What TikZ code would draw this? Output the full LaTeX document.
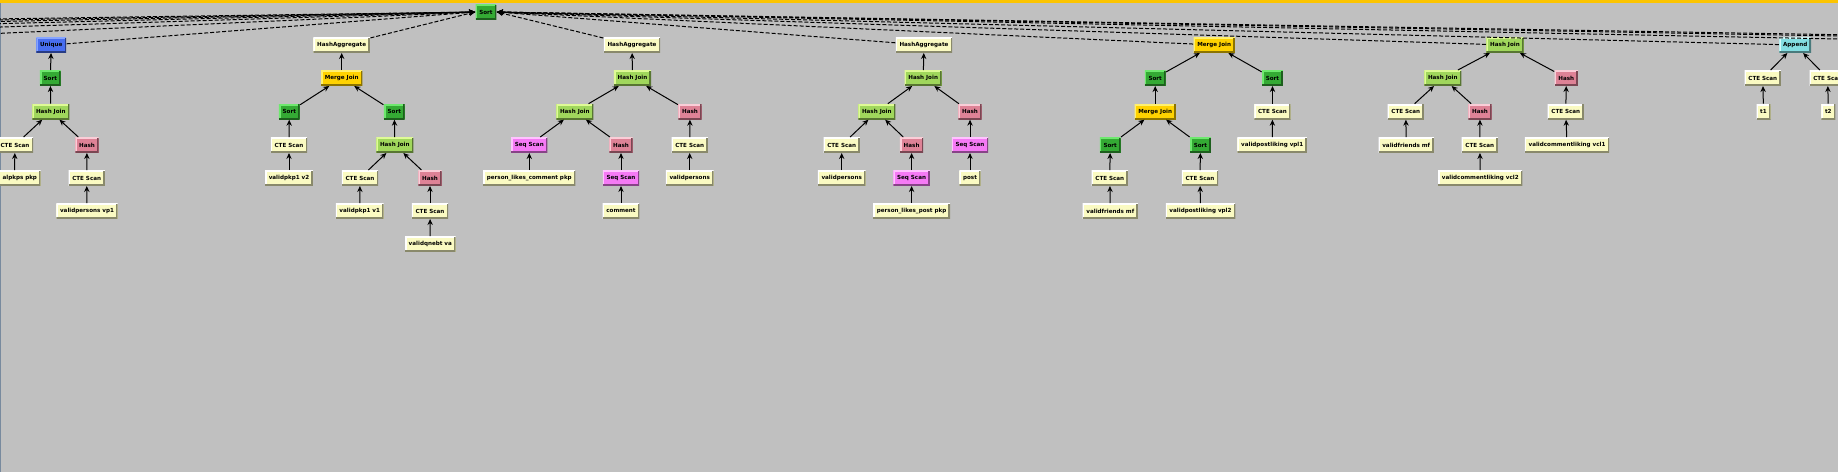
\documentclass[tikz,border=0pt]{standalone}
\usepackage{fontspec}
\setmainfont{DejaVu Sans}
\usetikzlibrary{arrows.meta}

\definecolor{planbg}{RGB}{192,192,192}
\definecolor{planbar}{RGB}{252,196,0}
\definecolor{planedge}{RGB}{120,138,158}
\definecolor{palefill}{RGB}{250,250,194}
\definecolor{sortfill}{RGB}{52,170,52}
\definecolor{sortlt}{RGB}{110,232,110}
\definecolor{hjfill}{RGB}{160,215,92}
\definecolor{hjlt}{RGB}{222,250,150}
\definecolor{hashfill}{RGB}{222,130,150}
\definecolor{hashlt}{RGB}{250,205,215}
\definecolor{mjfill}{RGB}{255,210,0}
\definecolor{mjlt}{RGB}{255,240,110}
\definecolor{seqfill}{RGB}{245,122,245}
\definecolor{seqlt}{RGB}{255,195,255}
\definecolor{uniqfill}{RGB}{72,110,240}
\definecolor{uniqlt}{RGB}{135,165,255}
\definecolor{appfill}{RGB}{132,222,226}
\definecolor{applt}{RGB}{212,250,250}

\newcommand{\opfont}{\bfseries\fontsize{4.2pt}{5pt}\selectfont}

\tikzset{every picture/.style={line width=0.75pt}}
\tikzset{
  planop/.style 2 args={rectangle, fill=#1, minimum height=11.25pt, inner xsep=2.8pt, inner ysep=0pt, font=\opfont,
    path picture={
      \draw[#2, line width=2.4pt] (path picture bounding box.south west) -- (path picture bounding box.north west) -- (path picture bounding box.north east);
      \draw[#1!55!black, line width=2.4pt] (path picture bounding box.north east) -- (path picture bounding box.south east) -- (path picture bounding box.south west);
    }},
  paleop/.style={planop={palefill}{white}},
  sortop/.style={planop={sortfill}{sortlt}},
  hjop/.style={planop={hjfill}{hjlt}},
  hashop/.style={planop={hashfill}{hashlt}},
  mjop/.style={planop={mjfill}{mjlt}},
  seqop/.style={planop={seqfill}{seqlt}},
  uniqop/.style={planop={uniqfill}{uniqlt}},
  appop/.style={planop={appfill}{applt}},
  childarrow/.style={-{Stealth[length=4.5pt,width=4pt]}},
  rootarrow/.style={-{Stealth[length=4.5pt,width=4pt]}, dash pattern=on 3pt off 1.5pt}
}

\begin{document}
\begin{tikzpicture}[x=0.75pt,y=0.75pt,yscale=-1,xscale=1]
\useasboundingbox (0,0) rectangle (1838,472);
\clip (0,0) rectangle (1838,472);

%Shape: Background
\fill[planbg] (0,0) rectangle (1838,472);
\fill[planbar] (0,0) rectangle (1838,3.3);
\fill[planedge] (0,3.3) rectangle (1.3,472);

% Root
\node[sortop] (sortroot) at (486,12) {Sort};

% Plan: Unique
\node[uniqop] (uniqA) at (51.3,45) {Unique};
\node[sortop] (sortA) at (50.3,78) {Sort};
\node[hjop] (hjA) at (50.8,111.7) {Hash Join};
\node[paleop] (cteA1) at (15,145) {CTE Scan};
\node[hashop] (hashA) at (87,145) {Hash};
\node[paleop, text width=33.9pt, align=right] (relA1) at (14.4,178) {alpkps pkp};
\node[paleop] (cteA2) at (86.7,178) {CTE Scan};
\node[paleop] (relA2) at (87,211) {validpersons vp1};

% Plan: HashAggregate, Merge Join
\node[paleop] (aggB) at (341.7,45) {HashAggregate};
\node[mjop] (mjB) at (341.7,78) {Merge Join};
\node[sortop] (sortB1) at (289.3,111.7) {Sort};
\node[sortop] (sortB2) at (394.3,111.7) {Sort};
\node[paleop] (cteB1) at (289,145) {CTE Scan};
\node[paleop] (relB1) at (289,178) {validpkp1 v2};
\node[hjop] (hjB) at (394.8,145) {Hash Join};
\node[paleop] (cteB2) at (360,178) {CTE Scan};
\node[paleop] (relB2) at (359.7,211) {validpkp1 v1};
\node[hashop] (hashB) at (430,178) {Hash};
\node[paleop] (cteB3) at (430,211) {CTE Scan};
\node[paleop] (relB3) at (430.3,244) {validqnebt va};

% Plan: HashAggregate, Hash Join (comment)
\node[paleop] (aggC) at (632,45) {HashAggregate};
\node[hjop] (hjC) at (632.5,78) {Hash Join};
\node[hjop] (hjC2) at (574.8,111.7) {Hash Join};
\node[hashop] (hashC) at (690,111.7) {Hash};
\node[seqop] (seqC1) at (529.3,145) {Seq Scan};
\node[paleop] (relC1) at (529.3,178) {person\_likes\_comment pkp};
\node[hashop] (hashC2) at (621,145) {Hash};
\node[seqop] (seqC2) at (621,178) {Seq Scan};
\node[paleop] (relC2) at (621,211) {comment};
\node[paleop] (cteC) at (689.7,145) {CTE Scan};
\node[paleop] (relC3) at (689.7,178) {validpersons};

% Plan: HashAggregate, Hash Join (post)
\node[paleop] (aggD) at (924,45) {HashAggregate};
\node[hjop] (hjD) at (923.2,78) {Hash Join};
\node[hjop] (hjD2) at (876.8,111.7) {Hash Join};
\node[hashop] (hashD) at (970,111.7) {Hash};
\node[paleop] (cteD) at (841.7,145) {CTE Scan};
\node[paleop] (relD1) at (841.7,178) {validpersons};
\node[hashop] (hashD2) at (911.6,145) {Hash};
\node[seqop] (seqD1) at (911.6,178) {Seq Scan};
\node[paleop] (relD2) at (911.6,211) {person\_likes\_post pkp};
\node[seqop] (seqD2) at (970,145) {Seq Scan};
\node[paleop] (relD3) at (970,178) {post};

% Plan: Merge Join
\node[mjop] (mjE) at (1214.2,45) {Merge Join};
\node[sortop] (sortE1) at (1155.2,78) {Sort};
\node[sortop] (sortE2) at (1272.5,78) {Sort};
\node[mjop] (mjE2) at (1155.2,111.7) {Merge Join};
\node[paleop] (cteE3) at (1272.5,111.7) {CTE Scan};
\node[paleop] (relE3) at (1272.2,145) {validpostliking vpl1};
\node[sortop] (sortE3) at (1110.2,145) {Sort};
\node[sortop] (sortE4) at (1200.5,145) {Sort};
\node[paleop] (cteE1) at (1109.8,178) {CTE Scan};
\node[paleop] (cteE2) at (1200,178) {CTE Scan};
\node[paleop] (relE1) at (1110.3,211) {validfriends mf};
\node[paleop] (relE2) at (1200.5,211) {validpostliking vpl2};

% Plan: Hash Join
\node[hjop] (hjF) at (1505,45) {Hash Join};
\node[hjop] (hjF2) at (1442.8,78) {Hash Join};
\node[hashop] (hashF) at (1566.3,78) {Hash};
\node[paleop] (cteF1) at (1405.8,111.7) {CTE Scan};
\node[paleop] (relF1) at (1406.2,145) {validfriends mf};
\node[hashop] (hashF2) at (1480,111.7) {Hash};
\node[paleop] (cteF2) at (1479.8,145) {CTE Scan};
\node[paleop] (relF2) at (1480.3,178) {validcommentliking vcl2};
\node[paleop] (cteF3) at (1565.8,111.7) {CTE Scan};
\node[paleop] (relF3) at (1567,145) {validcommentliking vcl1};

% Plan: Append
\node[appop] (appG) at (1795.2,45) {Append};
\node[paleop] (cteG1) at (1762.8,78) {CTE Scan};
\node[paleop] (relG1) at (1763.5,111.7) {t1};
\node[paleop] (cteG2) at (1827.7,78) {CTE Scan};
\node[paleop] (relG2) at (1828.3,111.7) {t2};

% Plans outside the view
\coordinate (offL1) at (-215,43);
\coordinate (offL2) at (-505,43);
\coordinate (offL3) at (-795,43);
\coordinate (offL4) at (-1085,43);
\coordinate (offL5) at (-1375,43);
\coordinate (offL6) at (-1665,43);
\coordinate (offR1) at (1987,42);
\coordinate (offR2) at (2173,42);
\coordinate (offR3) at (2269,42);

%Dashed Lines: plans into root
\draw[rootarrow] (offL6) -- (sortroot.west);
\draw[rootarrow] (offL5) -- (sortroot.west);
\draw[rootarrow] (offL4) -- (sortroot.west);
\draw[rootarrow] (offL3) -- (sortroot.west);
\draw[rootarrow] (offL2) -- (sortroot.west);
\draw[rootarrow] (offL1) -- (sortroot.west);
\draw[rootarrow] (uniqA) -- (sortroot.west);
\draw[rootarrow] (aggB) -- (sortroot.west);
\draw[rootarrow] (aggC) -- (sortroot.east);
\draw[rootarrow] (aggD) -- (sortroot.east);
\draw[rootarrow] (mjE) -- (sortroot.east);
\draw[rootarrow] (hjF) -- (sortroot.east);
\draw[rootarrow] (appG) -- (sortroot.east);
\draw[rootarrow] (offR1) -- (sortroot.east);
\draw[rootarrow] (offR2) -- (sortroot.east);
\draw[rootarrow] (offR3) -- (sortroot.east);

%Straight Lines: Unique
\draw[childarrow] (sortA) -- (uniqA);
\draw[childarrow] (hjA) -- (sortA);
\draw[childarrow] (cteA1) -- (hjA);
\draw[childarrow] (hashA) -- (hjA);
\draw[childarrow] (relA1) -- (cteA1);
\draw[childarrow] (cteA2) -- (hashA);
\draw[childarrow] (relA2) -- (cteA2);

%Straight Lines: HashAggregate, Merge Join
\draw[childarrow] (mjB) -- (aggB);
\draw[childarrow] (sortB1) -- (mjB);
\draw[childarrow] (sortB2) -- (mjB);
\draw[childarrow] (cteB1) -- (sortB1);
\draw[childarrow] (relB1) -- (cteB1);
\draw[childarrow] (hjB) -- (sortB2);
\draw[childarrow] (cteB2) -- (hjB);
\draw[childarrow] (hashB) -- (hjB);
\draw[childarrow] (relB2) -- (cteB2);
\draw[childarrow] (cteB3) -- (hashB);
\draw[childarrow] (relB3) -- (cteB3);

%Straight Lines: HashAggregate, Hash Join (comment)
\draw[childarrow] (hjC) -- (aggC);
\draw[childarrow] (hjC2) -- (hjC);
\draw[childarrow] (hashC) -- (hjC);
\draw[childarrow] (seqC1) -- (hjC2);
\draw[childarrow] (hashC2) -- (hjC2);
\draw[childarrow] (relC1) -- (seqC1);
\draw[childarrow] (seqC2) -- (hashC2);
\draw[childarrow] (relC2) -- (seqC2);
\draw[childarrow] (cteC) -- (hashC);
\draw[childarrow] (relC3) -- (cteC);

%Straight Lines: HashAggregate, Hash Join (post)
\draw[childarrow] (hjD) -- (aggD);
\draw[childarrow] (hjD2) -- (hjD);
\draw[childarrow] (hashD) -- (hjD);
\draw[childarrow] (cteD) -- (hjD2);
\draw[childarrow] (hashD2) -- (hjD2);
\draw[childarrow] (relD1) -- (cteD);
\draw[childarrow] (seqD1) -- (hashD2);
\draw[childarrow] (relD2) -- (seqD1);
\draw[childarrow] (seqD2) -- (hashD);
\draw[childarrow] (relD3) -- (seqD2);

%Straight Lines: Merge Join
\draw[childarrow] (sortE1) -- (mjE);
\draw[childarrow] (sortE2) -- (mjE);
\draw[childarrow] (mjE2) -- (sortE1);
\draw[childarrow] (cteE3) -- (sortE2);
\draw[childarrow] (relE3) -- (cteE3);
\draw[childarrow] (sortE3) -- (mjE2);
\draw[childarrow] (sortE4) -- (mjE2);
\draw[childarrow] (cteE1) -- (sortE3);
\draw[childarrow] (cteE2) -- (sortE4);
\draw[childarrow] (relE1) -- (cteE1);
\draw[childarrow] (relE2) -- (cteE2);

%Straight Lines: Hash Join
\draw[childarrow] (hjF2) -- (hjF);
\draw[childarrow] (hashF) -- (hjF);
\draw[childarrow] (cteF1) -- (hjF2);
\draw[childarrow] (hashF2) -- (hjF2);
\draw[childarrow] (relF1) -- (cteF1);
\draw[childarrow] (cteF2) -- (hashF2);
\draw[childarrow] (relF2) -- (cteF2);
\draw[childarrow] (cteF3) -- (hashF);
\draw[childarrow] (relF3) -- (cteF3);

%Straight Lines: Append
\draw[childarrow] (cteG1) -- (appG);
\draw[childarrow] (cteG2) -- (appG);
\draw[childarrow] (relG1) -- (cteG1);
\draw[childarrow] (relG2) -- (cteG2);

\end{tikzpicture}
\end{document}
